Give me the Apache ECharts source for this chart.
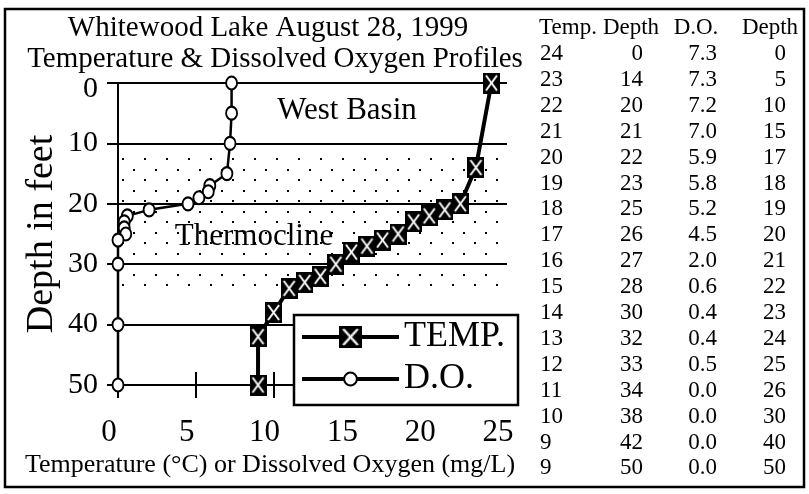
<!DOCTYPE html>
<html>
<head>
<meta charset="utf-8">
<script src="https://cdn.jsdelivr.net/npm/echarts@6/dist/echarts.min.js"></script>
<style>
  html, body { margin: 0; padding: 0; background: #fff; }
  #chart { width: 809px; height: 494px; }
</style>
</head>
<body>
<div id="chart"></div>
<script>
// profile data (also printed in the table on the right)
const temps      = [24, 23, 22, 21, 20, 19, 18, 17, 16, 15, 14, 13, 12, 11, 10, 9, 9];
const tempDepths = [0, 14, 20, 21, 22, 23, 25, 26, 27, 28, 30, 32, 33, 34, 38, 42, 50];
const doValues   = [7.3, 7.3, 7.2, 7.0, 5.9, 5.8, 5.2, 4.5, 2.0, 0.6, 0.4, 0.4, 0.5, 0.0, 0.0, 0.0, 0.0];
const doDepths   = [0, 5, 10, 15, 17, 18, 19, 20, 21, 22, 23, 24, 25, 26, 30, 40, 50];
const tableHeads = ['Temp.', 'Depth', 'D.O.', 'Depth'];
const thermocline = [11.5, 34.5];

const SERIF = '"Liberation Serif", "DejaVu Serif", serif';

function tempSymbol() {
  const c = document.createElement('canvas');
  c.width = 17; c.height = 21;
  const g = c.getContext('2d');
  g.fillStyle = '#000';
  g.fillRect(0, 0, 17, 21);
  g.strokeStyle = '#fff';
  g.lineWidth = 2;
  g.beginPath();
  g.moveTo(3, 3); g.lineTo(14, 18);
  g.moveTo(14, 3); g.lineTo(3, 18);
  g.stroke();
  return 'image://' + c.toDataURL();
}

function dotPattern() {
  const c = document.createElement('canvas');
  c.width = 22; c.height = 21;
  const g = c.getContext('2d');
  g.fillStyle = '#000';
  g.fillRect(1, 1, 2, 2);
  g.fillRect(12, 11, 2, 2);
  return c;
}

const tempData = temps.map((t, i) => [t, tempDepths[i]]);
const doData = doValues.map((v, i) => [v, doDepths[i]]);

// table on the right
const tableCols = [
  { x: 540, align: 'left', vals: temps.map(String) },
  { x: 643, align: 'right', vals: tempDepths.map(String) },
  { x: 717, align: 'right', vals: doValues.map(v => v.toFixed(1)) },
  { x: 786, align: 'right', vals: doDepths.map(String) }
];
const headX = [568, 631, 696, 770];

function txt(x, y, text, size, align, extra) {
  return Object.assign({
    type: 'text', x: x, y: y, z: 6,
    style: {
      text: text, fill: '#000',
      font: size + 'px ' + SERIF,
      textAlign: align || 'center', align: align || 'center',
      textVerticalAlign: 'middle', verticalAlign: 'middle'
    }
  }, extra || {});
}

const graphics = [
  { type: 'rect', z: 1, shape: { x: 5, y: 9, width: 799, height: 478 },
    style: { fill: 'none', stroke: '#000', lineWidth: 2.5 } },
  { type: 'rect', z: 4, shape: { x: 294, y: 315, width: 224, height: 90 },
    style: { fill: '#fff', stroke: '#000', lineWidth: 2.5 } },
  txt(268, 28, 'Whitewood Lake August 28, 1999', 29),
  txt(275, 59, 'Temperature & Dissolved Oxygen Profiles', 29),
  txt(347, 111, 'West Basin', 31),
  txt(254, 237, 'Thermocline', 31),
  txt(270, 465, 'Temperature (°C) or Dissolved Oxygen (mg/L)', 26)
];
tableHeads.forEach((h, j) => graphics.push(txt(headX[j], 28, h, 23)));
tableCols.forEach(col => {
  col.vals.forEach((v, i) => graphics.push(txt(col.x, 54 + 25.9 * i, v, 23, col.align)));
});

const plotBox = { left: 118, top: 83, width: 389, height: 302 };

const chart = echarts.init(document.getElementById('chart'));
chart.setOption({
  animation: false,
  backgroundColor: '#fff',
  grid: [
    plotBox,
    { left: 109, top: 83, width: 389, height: 302 },  // tick labels sit a little left in the original
    plotBox                                           // inner half of the crossing ticks
  ],
  xAxis: [
    { type: 'value', gridIndex: 0, position: 'bottom', min: 0, max: 25, interval: 5,
      axisLine: { show: true, onZero: false, lineStyle: { color: '#000', width: 2 } },
      axisTick: { show: true, length: 13, lineStyle: { color: '#000', width: 2 } },
      axisLabel: { show: false }, splitLine: { show: false } },
    { type: 'value', gridIndex: 1, position: 'bottom', min: 0, max: 25, interval: 5,
      axisLine: { show: false, onZero: false }, axisTick: { show: false }, splitLine: { show: false },
      axisLabel: { color: '#000', fontFamily: SERIF, fontSize: 31, margin: 32 } },
    { type: 'value', gridIndex: 2, position: 'bottom', min: 0, max: 25, interval: 5,
      axisLine: { show: false, onZero: false },
      axisTick: { show: true, inside: true, length: 13, lineStyle: { color: '#000', width: 2 } },
      axisLabel: { show: false }, splitLine: { show: false } }
  ],
  yAxis: [
    { type: 'value', gridIndex: 0, inverse: true, min: 0, max: 50, interval: 10,
      name: 'Depth in feet', nameLocation: 'middle', nameGap: 57, nameRotate: 90,
      nameTextStyle: { color: '#000', fontFamily: SERIF, fontSize: 38 },
      axisLine: { show: true, onZero: false, lineStyle: { color: '#000', width: 2 } },
      axisTick: { show: true, length: 11, lineStyle: { color: '#000', width: 2 } },
      splitLine: { show: true, lineStyle: { color: '#000', width: 2 } },
      axisLabel: {
        color: '#000', fontFamily: SERIF, fontSize: 30, margin: 20,
        formatter: v => (v === 0 ? '{z|0}' : String(v)),
        rich: { z: { fontFamily: SERIF, fontSize: 30, color: '#000', padding: [12, 0, 0, 0] } }
      } },
    { type: 'value', gridIndex: 1, show: false, min: 0, max: 50 },
    { type: 'value', gridIndex: 2, show: false, min: 0, max: 50 }
  ],
  legend: [
    { data: ['TEMP.'], orient: 'vertical', left: 300, top: 319, padding: 0,
      itemWidth: 97, itemHeight: 28, selectedMode: false, z: 10,
      lineStyle: { width: 4, color: '#000' },
      textStyle: { color: '#000', fontFamily: SERIF, fontSize: 36, lineHeight: 36 } },
    { data: ['D.O.'], orient: 'vertical', left: 300, top: 361, padding: 0,
      itemWidth: 97, itemHeight: 16, selectedMode: false, z: 10,
      lineStyle: { width: 4, color: '#000' },
      textStyle: { color: '#000', fontFamily: SERIF, fontSize: 36, lineHeight: 36 } }
  ],
  graphic: { elements: graphics },
  series: [
    { name: 'TEMP.', type: 'line', xAxisIndex: 0, yAxisIndex: 0, data: tempData,
      symbol: tempSymbol(), symbolSize: [17, 21], clip: false, z: 3,
      lineStyle: { color: '#000', width: 4 }, itemStyle: { color: '#000' },
      markArea: {
        silent: true,
        itemStyle: { color: { image: dotPattern(), repeat: 'repeat' } },
        data: [[{ xAxis: 0.15, yAxis: thermocline[0] }, { xAxis: 25, yAxis: thermocline[1] }]]
      } },
    { name: 'D.O.', type: 'line', xAxisIndex: 0, yAxisIndex: 0, data: doData,
      symbol: 'circle', symbolSize: [11, 13], clip: false, z: 3,
      lineStyle: { color: '#000', width: 2.5 },
      itemStyle: { color: '#fff', borderColor: '#000', borderWidth: 2 } }
  ]
});
</script>
</body>
</html>
